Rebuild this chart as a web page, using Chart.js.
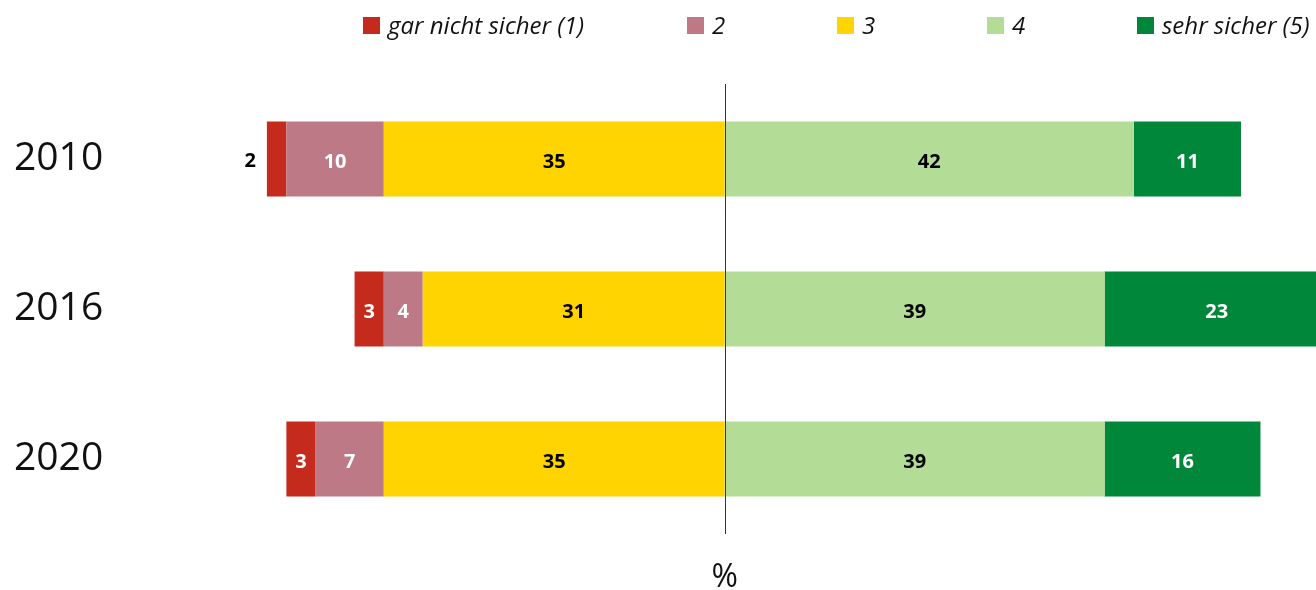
<!DOCTYPE html>
<html lang="de">
<head>
<meta charset="utf-8">
<script src="https://cdn.jsdelivr.net/npm/chart.js@4.4.1/dist/chart.umd.min.js"></script>
<style>
  body { margin: 0; background: #fff; font-family: "Open Sans", sans-serif; }
  #wrap { position: relative; width: 1316px; height: 590px; }
  #legend { position: absolute; top: 8px; left: 363px; display: flex; white-space: nowrap; }
  .item { display: flex; align-items: center; width: 150px; font-style: italic; font-size: 24px; line-height: 34px; color: #111; }
  .item:first-child { width: 324px; }
  .item:last-child { width: auto; }
  .item span.box { width: 17px; height: 17px; margin-right: 8px; flex: none; }
</style>
</head>
<body>
<div id="wrap">
  <div id="legend"></div>
  <canvas id="chart" width="1316" height="590"></canvas>
</div>
<script>
// Sicherheit nach Jahr - gestapelte Balken um die Mitte (3 links, 4 rechts)

const years = ['2010', '2016', '2020'];
const seriesNames = ['gar nicht sicher (1)', '2', '3', '4', 'sehr sicher (5)'];
const seriesColors = ['#c42b1c', '#bd7986', '#ffd400', '#b3dd96', '#00873a'];

const s1 = [2, 3, 3];
const s2 = [10, 4, 7];
const s3 = [35, 31, 35];
const s4 = [42, 39, 39];
const s5 = [11, 23, 16];

const labelColors = ['#fff', '#fff', '#000', '#000', '#fff'];

// linke Seite negativ, Stapelreihenfolge von der Mitte nach aussen
const allSeries = [s1, s2, s3, s4, s5];
const leftSide = [true, true, true, false, false];
const stackOrder = [3, 2, 1, 4, 5];

// Legende als HTML
const legendEl = document.getElementById('legend');
seriesNames.forEach((name, i) => {
    const item = document.createElement('div');
    item.className = 'item';
    const box = document.createElement('span');
    box.className = 'box';
    box.style.background = seriesColors[i];
    item.appendChild(box);
    item.appendChild(document.createTextNode(name));
    legendEl.appendChild(item);
});

const extrasPlugin = {
    id: 'extras',
    afterDatasetsDraw(chart) {
        const { ctx, chartArea, scales } = chart;
        const x0 = scales.x.getPixelForValue(0);

        // Nulllinie
        ctx.save();
        ctx.strokeStyle = '#333';
        ctx.lineWidth = 1;
        ctx.beginPath();
        ctx.moveTo(Math.round(x0) + 0.5, chartArea.top);
        ctx.lineTo(Math.round(x0) + 0.5, chartArea.bottom);
        ctx.stroke();

        // Werte in den Balken
        ctx.font = 'bold 20px "Open Sans"';
        ctx.textBaseline = 'middle';
        chart.data.datasets.forEach((ds, di) => {
            const meta = chart.getDatasetMeta(di);
            meta.data.forEach((el, i) => {
                const val = Math.abs(ds.data[i]);
                const w = Math.abs(el.x - el.base);
                const c = el.getCenterPoint();
                if (w < 25) {
                    ctx.fillStyle = '#000';
                    ctx.textAlign = 'right';
                    ctx.fillText(val, Math.min(el.x, el.base) - 11, c.y + 2);
                } else {
                    ctx.fillStyle = labelColors[di];
                    ctx.textAlign = 'center';
                    ctx.fillText(val, c.x, c.y + 3);
                }
            });
        });

        // Jahreszahlen links
        ctx.font = '39px "Open Sans"';
        ctx.fillStyle = '#111';
        ctx.textAlign = 'left';
        years.forEach((y, i) => {
            ctx.fillText(y, 14, scales.y.getPixelForValue(i));
        });

        // Einheit
        ctx.font = '32px "Open Sans"';
        ctx.textAlign = 'center';
        ctx.fillText('%', x0, chartArea.bottom + 44);
        ctx.restore();
    }
};

new Chart(document.getElementById('chart'), {
    type: 'bar',
    data: {
        labels: years,
        datasets: allSeries.map((arr, i) => ({
            label: seriesNames[i],
            data: arr.map(v => leftSide[i] ? -v : v),
            backgroundColor: seriesColors[i],
            borderWidth: 0,
            order: stackOrder[i],
            categoryPercentage: 0.5,
            barPercentage: 1
        }))
    },
    options: {
        indexAxis: 'y',
        responsive: false,
        animation: false,
        layout: { padding: { top: 84, bottom: 56, left: 0, right: 0 } },
        plugins: {
            legend: { display: false },
            tooltip: { enabled: false }
        },
        scales: {
            x: { stacked: true, min: -74.4, max: 60.7, display: false },
            y: { stacked: true, display: false }
        }
    },
    plugins: [extrasPlugin]
});
</script>
</body>
</html>
